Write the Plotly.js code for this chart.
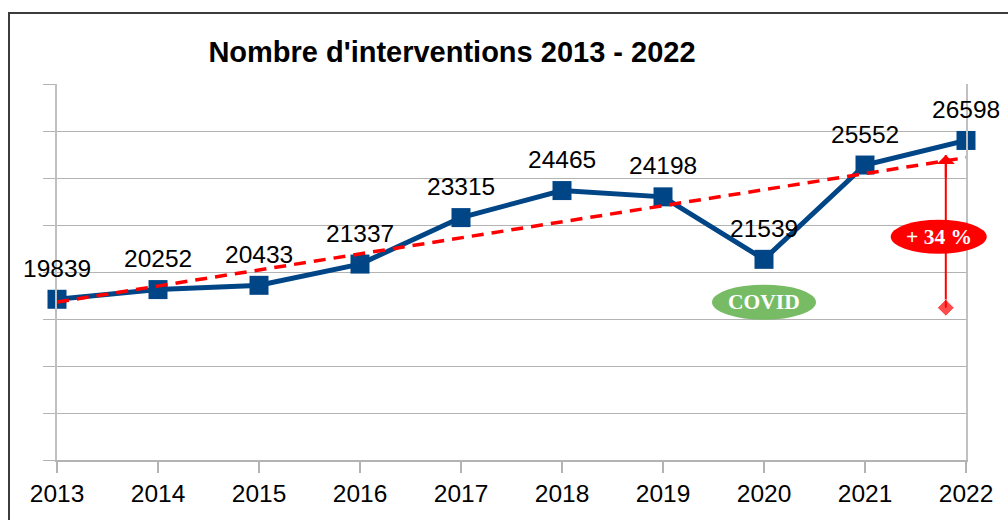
<!DOCTYPE html>
<html><head><meta charset="utf-8">
<script src="https://cdn.plot.ly/plotly-3.0.1.min.js"></script>
<style>
html,body{margin:0;padding:0;background:#fff;}
#wrap{position:relative;width:1008px;height:520px;overflow:hidden;}
#chart{position:absolute;left:0;top:0;width:1008px;height:520px;}
#frame{position:absolute;left:8px;top:12px;width:1100px;height:600px;border:2px solid #3c3c3c;pointer-events:none;}
</style></head>
<body><div id="wrap"><div id="chart"></div><div id="frame"></div></div>
<script>
const years = [2013, 2014, 2015, 2016, 2017, 2018, 2019, 2020, 2021, 2022];
const interventions = [19839, 20252, 20433, 21337, 23315, 24465, 24198, 21539, 25552, 26598];
const trendYears = [2013, 2022];
const trendValues = [19720, 25870];
const arrowX = 2021.8, arrowBase = 19480, arrowTop = 25980;
const covidLabel = {x: 2020, y: 19714, text: 'COVID'};
const growthLabel = {x: 2021.73, y: 22498, text: '+ 34 %'};
const yMin = 13000, yMax = 29000;

const blue = '#004586';
const traces = [
  {x: years, y: interventions, mode: 'lines+markers', line: {color: blue, width: 5},
   marker: {symbol: 'square', size: 19, color: blue}, cliponaxis: false},
  {x: trendYears, y: trendValues, mode: 'lines', line: {color: '#ff0000', width: 3.5, dash: '12px,8px'}, hoverinfo: 'skip'},
  {x: [arrowX, arrowX], y: [arrowBase, arrowTop], mode: 'lines+markers', line: {color: '#ff0000', width: 2},
   marker: {symbol: ['diamond', 'circle'], size: [13, 0], color: '#ff0000'}, cliponaxis: false}
];

const px = v => (v - 2013) / 9;
const py = v => (v - yMin) / (yMax - yMin);

const annotations = years.map((yr, i) => ({
  x: yr, y: interventions[i], text: String(interventions[i]), showarrow: false,
  yshift: 31, font: {family: 'Liberation Sans, Arial, sans-serif', size: 24.5, color: '#000'}
}));
annotations.push({x: arrowX, y: arrowTop, ax: 0, ay: 24,
  showarrow: true, arrowhead: 1, arrowsize: 1.5, arrowwidth: 2, arrowcolor: '#ff0000', text: ''});
[covidLabel, growthLabel].forEach(l => annotations.push({x: l.x, y: l.y, text: '<b>' + l.text + '</b>', showarrow: false,
  font: {family: 'Liberation Serif, Times New Roman, serif', size: 21.5, color: '#fff'}}));

const shapes = [
  {type: 'circle', xref: 'paper', yref: 'paper', xsizemode: 'pixel', ysizemode: 'pixel',
   xanchor: px(covidLabel.x), yanchor: py(covidLabel.y), x0: -52, x1: 52, y0: -17.5, y1: 17.5,
   fillcolor: '#77bc65', line: {width: 0}, layer: 'above'},
  {type: 'circle', xref: 'paper', yref: 'paper', xsizemode: 'pixel', ysizemode: 'pixel',
   xanchor: px(growthLabel.x), yanchor: py(growthLabel.y), x0: -48, x1: 48, y0: -17, y1: 17,
   fillcolor: '#ff0000', line: {width: 0}, layer: 'above'}
];

const layout = {
  width: 1008, height: 520,
  margin: {l: 57, r: 42, t: 84, b: 59.5},
  paper_bgcolor: '#fff', plot_bgcolor: 'rgba(0,0,0,0)',
  showlegend: false,
  title: {text: "Nombre d'interventions 2013 - 2022", xref: 'container', yref: 'container', x: 0.4484, y: 0.9,
    xanchor: 'center', yanchor: 'middle', font: {family: 'Liberation Sans, Arial, sans-serif', size: 29, color: '#000', weight: 'bold'}},
  xaxis: {range: [2013, 2022], tickvals: years, ticktext: years.map(String), showgrid: false, zeroline: false,
    showline: true, linecolor: '#b3b3b3', linewidth: 1.5, ticks: 'outside', ticklen: 11, tickcolor: '#b3b3b3', tickwidth: 1.5,
    tickfont: {family: 'Liberation Sans, Arial, sans-serif', size: 24.5, color: '#000'}, fixedrange: true},
  yaxis: {range: [yMin, yMax], dtick: 2000, tick0: yMin, showticklabels: false, showgrid: true, gridcolor: '#b3b3b3', gridwidth: 1,
    zeroline: false, showline: true, mirror: true, linecolor: '#c0c0c0', linewidth: 2,
    ticks: 'outside', ticklen: 12, tickcolor: '#b3b3b3', tickwidth: 1, fixedrange: true},
  annotations: annotations,
  shapes: shapes
};
Plotly.newPlot('chart', traces, layout, {staticPlot: true});
</script></body></html>
